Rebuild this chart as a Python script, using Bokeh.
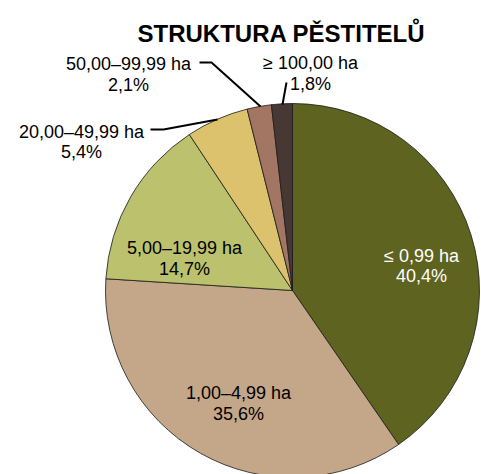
import numpy as np
from bokeh.plotting import figure
from bokeh.models import Range1d, ColumnDataSource
from bokeh.core.properties import value
from bokeh.embed import file_html
from bokeh.resources import INLINE

categories = ["≤ 0,99 ha", "1,00–4,99 ha", "5,00–19,99 ha", "20,00–49,99 ha", "50,00–99,99 ha", "≥ 100,00 ha"]
shares = [40.4, 35.6, 14.7, 5.4, 2.1, 1.8]
pct_labels = ["40,4%", "35,6%", "14,7%", "5,4%", "2,1%", "1,8%"]
colors = ["#5E641F", "#C4A688", "#BBC16C", "#DDC26E", "#A37563", "#473834"]
text_colors = ["white", "black", "black", "black", "black", "black"]

W, H = 481, 474
p = figure(width=W, height=H, output_backend="svg", toolbar_location=None,
           x_range=Range1d(0, W), y_range=Range1d(-H, 0),
           min_border=0)
p.axis.visible = False
p.grid.visible = False
p.outline_line_color = None
p.background_fill_color = "white"

cx, cy, r = 292, -290, 187
vals = np.array(shares)
cum = np.concatenate([[0], np.cumsum(vals)]) / vals.sum()
end_ang = np.deg2rad(90 - 360 * cum[:-1])
start_ang = np.deg2rad(90 - 360 * cum[1:])
src = ColumnDataSource(dict(start=start_ang, end=end_ang, color=colors))
p.wedge(x=cx, y=cy, radius=r, start_angle="start", end_angle="end",
        fill_color="color", line_color="#1a1a1a", line_width=0.8, source=src)

# leader lines
p.line([199, 211, 260], [-62, -62, -106], line_color="black", line_width=2)
p.line([286, 282], [-82, -104], line_color="black", line_width=2)
p.line([150, 163, 217], [-129, -129, -119], line_color="black", line_width=2)

# label positions (screen px): name baseline, pct baseline
lx = [421, 238, 184, 81, 128, 310]
ly1 = [255, 392, 247, 131, 63, 62]
ly2 = [275, 413, 268, 151, 84, 83]

font = value("Liberation Sans")
p.text(x=lx, y=[-v for v in ly1], text=categories, text_font=font,
       text_font_size="18px", text_align="center", text_baseline="alphabetic",
       text_color=text_colors)
p.text(x=lx, y=[-v for v in ly2], text=pct_labels, text_font=font,
       text_font_size="18px", text_align="center", text_baseline="alphabetic",
       text_color=text_colors)

p.text(x=[281], y=[-32.5], text=["STRUKTURA PĚSTITELŮ"], text_font=font,
       text_font_size="24px", text_font_style="bold", text_align="center",
       text_baseline="alphabetic", text_color="black")

open("out.html", "w").write(file_html(p, INLINE))
